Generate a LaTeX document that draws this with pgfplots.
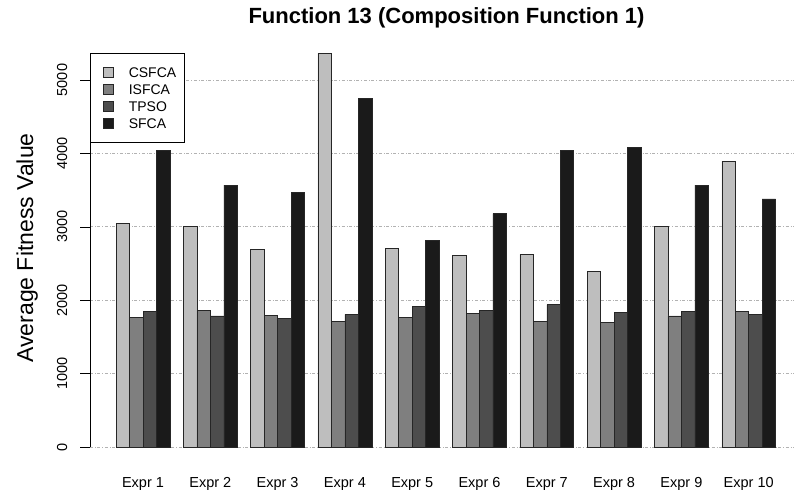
\documentclass[border=0pt]{standalone}
\usepackage{pgfplots}
\usepackage{pgfplotstable}
\pgfplotsset{compat=1.18}
\usepackage{fontspec}
\setmainfont{Liberation Sans}

\definecolor{cLight}{HTML}{BEBEBE}
\definecolor{cMid}{HTML}{7F7F7F}
\definecolor{cDark}{HTML}{4D4D4D}
\definecolor{cBlack}{HTML}{1A1A1A}

% group  CSFCA  ISFCA  TPSO  SFCA
\pgfplotstableread{
g csfca isfca tpso sfca
1  3046 1766 1843 4037
2  3005 1861 1785 3569
3  2697 1793 1752 3474
4  5362 1716 1807 4750
5  2702 1766 1916 2820
6  2606 1820 1866 3178
7  2624 1711 1939 4041
8  2392 1703 1830 4087
9  3001 1785 1848 3569
10 3896 1843 1807 3379
}\fdata

\begin{document}
\begin{tikzpicture}
\useasboundingbox (0pt,0pt) rectangle (794pt,495pt);
\node[anchor=base, inner sep=0pt, font=\bfseries\fontsize{22}{24}\selectfont] at (446.5pt,471.5pt) {Function 13 (Composition Function 1)};
\node[rotate=90, anchor=base, inner sep=0pt, font=\fontsize{23}{26}\selectfont] at (33pt,247pt) {Average Fitness Value};
\begin{axis}[
  at={(90pt,48pt)}, anchor=south west,
  scale only axis, width=704pt, height=394pt,
  xmin=0.2125, xmax=10.673,
  ymin=0, ymax=5368,
  ybar=0pt, bar width=0.2,
  axis lines*=left,
  x axis line style={draw=none},
  y axis line style={black, line width=0.6pt},
  xtick={1,...,10},
  xticklabels={Expr 1,Expr 2,Expr 3,Expr 4,Expr 5,Expr 6,Expr 7,Expr 8,Expr 9,Expr 10},
  xtick style={draw=none},
  xticklabel style={font=\fontsize{14.5}{16}\selectfont, anchor=base, inner sep=0pt, yshift=-30pt},
  ytick={0,1000,...,5000},
  yticklabel style={font=\fontsize{14.5}{16}\selectfont, inner sep=0pt, xshift=-13pt, rotate=90, anchor=base},
  ytick style={black, line width=0.6pt},
  tick align=outside, major tick length=10pt,
  /pgf/number format/assume math mode=true,
  /pgf/number format/1000 sep={},
  ymajorgrids,
  grid style={gray!60, dash dot, line width=0.7pt},
  every axis plot/.append style={draw=black!85, line width=0.5pt},
  legend cell align=left,
  legend style={at={(0,1)}, anchor=north west, draw=black, line width=0.6pt,
    font=\fontsize{14}{16}\selectfont, row sep=6.5pt,
    inner xsep=8pt, inner ysep=14pt,
    nodes={inner sep=0pt, text height=10pt, text depth=0pt},
    /tikz/every odd column/.append style={column sep=15pt}},
  legend image code/.code={\path (0pt,0pt);\draw[#1, line width=0.5pt] (5pt,-5pt) rectangle (15pt,5pt);},
]
\addplot[fill=cLight] table[x=g,y=csfca] {\fdata};
\addplot[fill=cMid] table[x=g,y=isfca] {\fdata};
\addplot[fill=cDark] table[x=g,y=tpso] {\fdata};
\addplot[fill=cBlack] table[x=g,y=sfca] {\fdata};
\legend{CSFCA,ISFCA,TPSO,SFCA}
\end{axis}
\end{tikzpicture}
\end{document}
